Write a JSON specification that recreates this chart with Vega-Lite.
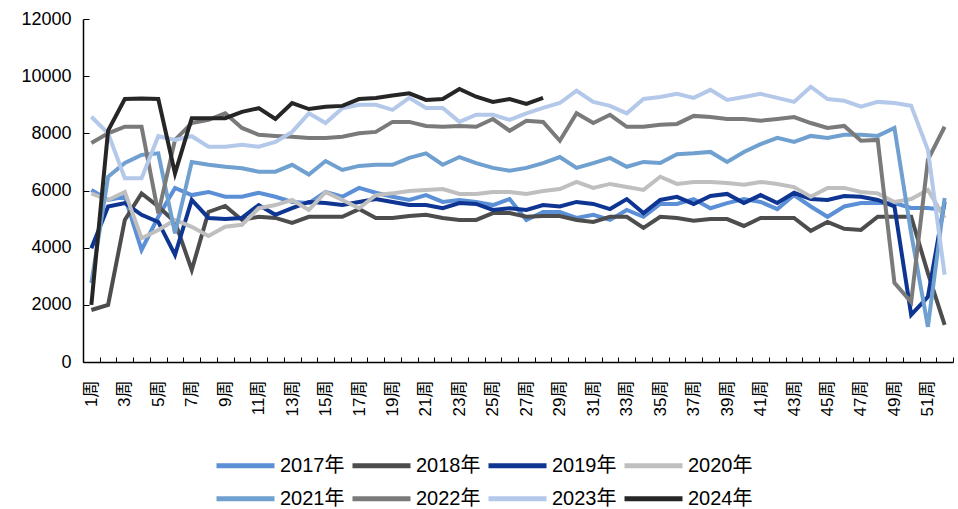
{
  "$schema": "https://vega.github.io/schema/vega-lite/v6.json",
  "width": 870,
  "height": 343,
  "autosize": {"type": "none"},
  "padding": {"left": 83, "top": 19, "right": 5, "bottom": 147},
  "background": "white",
  "config": {
    "view": {"stroke": null},
    "font": "Liberation Sans, Noto Sans CJK SC",
    "legend": {
      "title": null, "orient": "none", "direction": "horizontal", "columns": 4,
      "symbolType": "stroke", "symbolSize": 3364, "symbolStrokeWidth": 5,
      "labelFontSize": 20, "labelColor": "black", "labelOffset": 3, "columnPadding": -3
    }
  },
  "data": {"values": [
{"y":"2017年","w":1,"v":6020},{"y":"2017年","w":2,"v":5670},{"y":"2017年","w":3,"v":5780},{"y":"2017年","w":4,"v":3920},{"y":"2017年","w":5,"v":5080},{"y":"2017年","w":6,"v":6090},{"y":"2017年","w":7,"v":5840},{"y":"2017年","w":8,"v":5950},{"y":"2017年","w":9,"v":5780},{"y":"2017年","w":10,"v":5780},{"y":"2017年","w":11,"v":5920},{"y":"2017年","w":12,"v":5780},{"y":"2017年","w":13,"v":5600},{"y":"2017年","w":14,"v":5560},{"y":"2017年","w":15,"v":5950},{"y":"2017年","w":16,"v":5780},{"y":"2017年","w":17,"v":6090},{"y":"2017年","w":18,"v":5920},{"y":"2017年","w":19,"v":5780},{"y":"2017年","w":20,"v":5670},{"y":"2017年","w":21,"v":5840},{"y":"2017年","w":22,"v":5600},{"y":"2017年","w":23,"v":5670},{"y":"2017年","w":24,"v":5600},{"y":"2017年","w":25,"v":5490},{"y":"2017年","w":26,"v":5700},{"y":"2017年","w":27,"v":4970},{"y":"2017年","w":28,"v":5250},{"y":"2017年","w":29,"v":5250},{"y":"2017年","w":30,"v":5040},{"y":"2017年","w":31,"v":5150},{"y":"2017年","w":32,"v":4970},{"y":"2017年","w":33,"v":5320},{"y":"2017年","w":34,"v":5080},{"y":"2017年","w":35,"v":5530},{"y":"2017年","w":36,"v":5530},{"y":"2017年","w":37,"v":5700},{"y":"2017年","w":38,"v":5380},{"y":"2017年","w":39,"v":5560},{"y":"2017年","w":40,"v":5700},{"y":"2017年","w":41,"v":5600},{"y":"2017年","w":42,"v":5350},{"y":"2017年","w":43,"v":5840},{"y":"2017年","w":44,"v":5440},{"y":"2017年","w":45,"v":5080},{"y":"2017年","w":46,"v":5440},{"y":"2017年","w":47,"v":5560},{"y":"2017年","w":48,"v":5560},{"y":"2017年","w":49,"v":5560},{"y":"2017年","w":50,"v":5390},{"y":"2017年","w":51,"v":5390},{"y":"2017年","w":52,"v":5320},
{"y":"2018年","w":1,"v":1820},{"y":"2018年","w":2,"v":2000},{"y":"2018年","w":3,"v":4970},{"y":"2018年","w":4,"v":5900},{"y":"2018年","w":5,"v":5440},{"y":"2018年","w":6,"v":4900},{"y":"2018年","w":7,"v":3220},{"y":"2018年","w":8,"v":5250},{"y":"2018年","w":9,"v":5460},{"y":"2018年","w":10,"v":4970},{"y":"2018年","w":11,"v":5080},{"y":"2018年","w":12,"v":5040},{"y":"2018年","w":13,"v":4870},{"y":"2018年","w":14,"v":5080},{"y":"2018年","w":15,"v":5080},{"y":"2018年","w":16,"v":5080},{"y":"2018年","w":17,"v":5350},{"y":"2018年","w":18,"v":5040},{"y":"2018年","w":19,"v":5040},{"y":"2018年","w":20,"v":5110},{"y":"2018年","w":21,"v":5150},{"y":"2018年","w":22,"v":5040},{"y":"2018年","w":23,"v":4970},{"y":"2018年","w":24,"v":4970},{"y":"2018年","w":25,"v":5210},{"y":"2018年","w":26,"v":5210},{"y":"2018年","w":27,"v":5080},{"y":"2018年","w":28,"v":5110},{"y":"2018年","w":29,"v":5110},{"y":"2018年","w":30,"v":4970},{"y":"2018年","w":31,"v":4900},{"y":"2018年","w":32,"v":5080},{"y":"2018年","w":33,"v":5080},{"y":"2018年","w":34,"v":4690},{"y":"2018年","w":35,"v":5080},{"y":"2018年","w":36,"v":5040},{"y":"2018年","w":37,"v":4940},{"y":"2018年","w":38,"v":5000},{"y":"2018年","w":39,"v":5000},{"y":"2018年","w":40,"v":4760},{"y":"2018年","w":41,"v":5040},{"y":"2018年","w":42,"v":5040},{"y":"2018年","w":43,"v":5040},{"y":"2018年","w":44,"v":4590},{"y":"2018年","w":45,"v":4900},{"y":"2018年","w":46,"v":4660},{"y":"2018年","w":47,"v":4620},{"y":"2018年","w":48,"v":5080},{"y":"2018年","w":49,"v":5080},{"y":"2018年","w":50,"v":5080},{"y":"2018年","w":51,"v":3110},{"y":"2018年","w":52,"v":1300},
{"y":"2019年","w":1,"v":3980},{"y":"2019年","w":2,"v":5440},{"y":"2019年","w":3,"v":5560},{"y":"2019年","w":4,"v":5150},{"y":"2019年","w":5,"v":4900},{"y":"2019年","w":6,"v":3750},{"y":"2019年","w":7,"v":5670},{"y":"2019年","w":8,"v":5040},{"y":"2019年","w":9,"v":5000},{"y":"2019年","w":10,"v":5040},{"y":"2019年","w":11,"v":5490},{"y":"2019年","w":12,"v":5150},{"y":"2019年","w":13,"v":5380},{"y":"2019年","w":14,"v":5600},{"y":"2019年","w":15,"v":5560},{"y":"2019年","w":16,"v":5490},{"y":"2019年","w":17,"v":5600},{"y":"2019年","w":18,"v":5700},{"y":"2019年","w":19,"v":5600},{"y":"2019年","w":20,"v":5490},{"y":"2019年","w":21,"v":5490},{"y":"2019年","w":22,"v":5380},{"y":"2019年","w":23,"v":5560},{"y":"2019年","w":24,"v":5530},{"y":"2019年","w":25,"v":5320},{"y":"2019年","w":26,"v":5380},{"y":"2019年","w":27,"v":5320},{"y":"2019年","w":28,"v":5490},{"y":"2019年","w":29,"v":5440},{"y":"2019年","w":30,"v":5600},{"y":"2019年","w":31,"v":5530},{"y":"2019年","w":32,"v":5350},{"y":"2019年","w":33,"v":5700},{"y":"2019年","w":34,"v":5210},{"y":"2019年","w":35,"v":5670},{"y":"2019年","w":36,"v":5780},{"y":"2019年","w":37,"v":5530},{"y":"2019年","w":38,"v":5810},{"y":"2019年","w":39,"v":5880},{"y":"2019年","w":40,"v":5560},{"y":"2019年","w":41,"v":5840},{"y":"2019年","w":42,"v":5560},{"y":"2019年","w":43,"v":5920},{"y":"2019年","w":44,"v":5700},{"y":"2019年","w":45,"v":5670},{"y":"2019年","w":46,"v":5810},{"y":"2019年","w":47,"v":5780},{"y":"2019年","w":48,"v":5670},{"y":"2019年","w":49,"v":5440},{"y":"2019年","w":50,"v":1650},{"y":"2019年","w":51,"v":2280},{"y":"2019年","w":52,"v":5600},
{"y":"2020年","w":1,"v":5900},{"y":"2020年","w":2,"v":5670},{"y":"2020年","w":3,"v":5950},{"y":"2020年","w":4,"v":4330},{"y":"2020年","w":5,"v":4620},{"y":"2020年","w":6,"v":4970},{"y":"2020年","w":7,"v":4730},{"y":"2020年","w":8,"v":4410},{"y":"2020年","w":9,"v":4730},{"y":"2020年","w":10,"v":4800},{"y":"2020年","w":11,"v":5380},{"y":"2020年","w":12,"v":5490},{"y":"2020年","w":13,"v":5670},{"y":"2020年","w":14,"v":5320},{"y":"2020年","w":15,"v":5950},{"y":"2020年","w":16,"v":5670},{"y":"2020年","w":17,"v":5380},{"y":"2020年","w":18,"v":5840},{"y":"2020年","w":19,"v":5900},{"y":"2020年","w":20,"v":5980},{"y":"2020年","w":21,"v":6020},{"y":"2020年","w":22,"v":6050},{"y":"2020年","w":23,"v":5880},{"y":"2020年","w":24,"v":5880},{"y":"2020年","w":25,"v":5950},{"y":"2020年","w":26,"v":5950},{"y":"2020年","w":27,"v":5880},{"y":"2020年","w":28,"v":5980},{"y":"2020年","w":29,"v":6050},{"y":"2020年","w":30,"v":6300},{"y":"2020年","w":31,"v":6090},{"y":"2020年","w":32,"v":6230},{"y":"2020年","w":33,"v":6120},{"y":"2020年","w":34,"v":6020},{"y":"2020年","w":35,"v":6480},{"y":"2020年","w":36,"v":6230},{"y":"2020年","w":37,"v":6300},{"y":"2020年","w":38,"v":6300},{"y":"2020年","w":39,"v":6260},{"y":"2020年","w":40,"v":6200},{"y":"2020年","w":41,"v":6300},{"y":"2020年","w":42,"v":6230},{"y":"2020年","w":43,"v":6120},{"y":"2020年","w":44,"v":5780},{"y":"2020年","w":45,"v":6090},{"y":"2020年","w":46,"v":6090},{"y":"2020年","w":47,"v":5950},{"y":"2020年","w":48,"v":5900},{"y":"2020年","w":49,"v":5600},{"y":"2020年","w":50,"v":5700},{"y":"2020年","w":51,"v":6020},{"y":"2020年","w":52,"v":5040},
{"y":"2021年","w":1,"v":2760},{"y":"2021年","w":2,"v":6480},{"y":"2021年","w":3,"v":6960},{"y":"2021年","w":4,"v":7240},{"y":"2021年","w":5,"v":7300},{"y":"2021年","w":6,"v":4500},{"y":"2021年","w":7,"v":7000},{"y":"2021年","w":8,"v":6900},{"y":"2021年","w":9,"v":6830},{"y":"2021年","w":10,"v":6780},{"y":"2021年","w":11,"v":6660},{"y":"2021年","w":12,"v":6660},{"y":"2021年","w":13,"v":6900},{"y":"2021年","w":14,"v":6560},{"y":"2021年","w":15,"v":7030},{"y":"2021年","w":16,"v":6720},{"y":"2021年","w":17,"v":6860},{"y":"2021年","w":18,"v":6900},{"y":"2021年","w":19,"v":6900},{"y":"2021年","w":20,"v":7140},{"y":"2021年","w":21,"v":7300},{"y":"2021年","w":22,"v":6900},{"y":"2021年","w":23,"v":7170},{"y":"2021年","w":24,"v":6960},{"y":"2021年","w":25,"v":6790},{"y":"2021年","w":26,"v":6690},{"y":"2021年","w":27,"v":6790},{"y":"2021年","w":28,"v":6960},{"y":"2021年","w":29,"v":7170},{"y":"2021年","w":30,"v":6790},{"y":"2021年","w":31,"v":6960},{"y":"2021年","w":32,"v":7140},{"y":"2021年","w":33,"v":6830},{"y":"2021年","w":34,"v":7000},{"y":"2021年","w":35,"v":6960},{"y":"2021年","w":36,"v":7270},{"y":"2021年","w":37,"v":7300},{"y":"2021年","w":38,"v":7350},{"y":"2021年","w":39,"v":7000},{"y":"2021年","w":40,"v":7350},{"y":"2021年","w":41,"v":7620},{"y":"2021年","w":42,"v":7840},{"y":"2021年","w":43,"v":7700},{"y":"2021年","w":44,"v":7910},{"y":"2021年","w":45,"v":7840},{"y":"2021年","w":46,"v":7950},{"y":"2021年","w":47,"v":7950},{"y":"2021年","w":48,"v":7910},{"y":"2021年","w":49,"v":8190},{"y":"2021年","w":50,"v":4500},{"y":"2021年","w":51,"v":1230},{"y":"2021年","w":52,"v":5740},
{"y":"2022年","w":1,"v":7660},{"y":"2022年","w":2,"v":8000},{"y":"2022年","w":3,"v":8230},{"y":"2022年","w":4,"v":8230},{"y":"2022年","w":5,"v":5200},{"y":"2022年","w":6,"v":7770},{"y":"2022年","w":7,"v":8360},{"y":"2022年","w":8,"v":8470},{"y":"2022年","w":9,"v":8700},{"y":"2022年","w":10,"v":8190},{"y":"2022年","w":11,"v":7950},{"y":"2022年","w":12,"v":7910},{"y":"2022年","w":13,"v":7880},{"y":"2022年","w":14,"v":7840},{"y":"2022年","w":15,"v":7840},{"y":"2022年","w":16,"v":7880},{"y":"2022年","w":17,"v":8000},{"y":"2022年","w":18,"v":8050},{"y":"2022年","w":19,"v":8400},{"y":"2022年","w":20,"v":8400},{"y":"2022年","w":21,"v":8260},{"y":"2022年","w":22,"v":8230},{"y":"2022年","w":23,"v":8260},{"y":"2022年","w":24,"v":8230},{"y":"2022年","w":25,"v":8500},{"y":"2022年","w":26,"v":8090},{"y":"2022年","w":27,"v":8440},{"y":"2022年","w":28,"v":8400},{"y":"2022年","w":29,"v":7740},{"y":"2022年","w":30,"v":8700},{"y":"2022年","w":31,"v":8360},{"y":"2022年","w":32,"v":8650},{"y":"2022年","w":33,"v":8230},{"y":"2022年","w":34,"v":8230},{"y":"2022年","w":35,"v":8300},{"y":"2022年","w":36,"v":8330},{"y":"2022年","w":37,"v":8610},{"y":"2022年","w":38,"v":8570},{"y":"2022年","w":39,"v":8500},{"y":"2022年","w":40,"v":8500},{"y":"2022年","w":41,"v":8440},{"y":"2022年","w":42,"v":8500},{"y":"2022年","w":43,"v":8570},{"y":"2022年","w":44,"v":8360},{"y":"2022年","w":45,"v":8190},{"y":"2022年","w":46,"v":8260},{"y":"2022年","w":47,"v":7740},{"y":"2022年","w":48,"v":7770},{"y":"2022年","w":49,"v":2770},{"y":"2022年","w":50,"v":2100},{"y":"2022年","w":51,"v":7070},{"y":"2022年","w":52,"v":8230},
{"y":"2023年","w":1,"v":8580},{"y":"2023年","w":2,"v":8000},{"y":"2023年","w":3,"v":6430},{"y":"2023年","w":4,"v":6430},{"y":"2023年","w":5,"v":7900},{"y":"2023年","w":6,"v":7770},{"y":"2023年","w":7,"v":7900},{"y":"2023年","w":8,"v":7530},{"y":"2023年","w":9,"v":7530},{"y":"2023年","w":10,"v":7600},{"y":"2023年","w":11,"v":7530},{"y":"2023年","w":12,"v":7700},{"y":"2023年","w":13,"v":8050},{"y":"2023年","w":14,"v":8700},{"y":"2023年","w":15,"v":8360},{"y":"2023年","w":16,"v":8880},{"y":"2023年","w":17,"v":9000},{"y":"2023年","w":18,"v":9000},{"y":"2023年","w":19,"v":8820},{"y":"2023年","w":20,"v":9240},{"y":"2023年","w":21,"v":8890},{"y":"2023年","w":22,"v":8890},{"y":"2023年","w":23,"v":8400},{"y":"2023年","w":24,"v":8650},{"y":"2023年","w":25,"v":8650},{"y":"2023年","w":26,"v":8470},{"y":"2023年","w":27,"v":8700},{"y":"2023年","w":28,"v":8890},{"y":"2023年","w":29,"v":9060},{"y":"2023年","w":30,"v":9490},{"y":"2023年","w":31,"v":9100},{"y":"2023年","w":32,"v":8960},{"y":"2023年","w":33,"v":8700},{"y":"2023年","w":34,"v":9200},{"y":"2023年","w":35,"v":9270},{"y":"2023年","w":36,"v":9380},{"y":"2023年","w":37,"v":9240},{"y":"2023年","w":38,"v":9520},{"y":"2023年","w":39,"v":9170},{"y":"2023年","w":40,"v":9270},{"y":"2023年","w":41,"v":9380},{"y":"2023年","w":42,"v":9240},{"y":"2023年","w":43,"v":9100},{"y":"2023年","w":44,"v":9630},{"y":"2023年","w":45,"v":9200},{"y":"2023年","w":46,"v":9140},{"y":"2023年","w":47,"v":8930},{"y":"2023年","w":48,"v":9100},{"y":"2023年","w":49,"v":9060},{"y":"2023年","w":50,"v":8960},{"y":"2023年","w":51,"v":7420},{"y":"2023年","w":52,"v":3050},
{"y":"2024年","w":1,"v":2000},{"y":"2024年","w":2,"v":8100},{"y":"2024年","w":3,"v":9200},{"y":"2024年","w":4,"v":9220},{"y":"2024年","w":5,"v":9200},{"y":"2024年","w":6,"v":6600},{"y":"2024年","w":7,"v":8530},{"y":"2024年","w":8,"v":8530},{"y":"2024年","w":9,"v":8530},{"y":"2024年","w":10,"v":8750},{"y":"2024年","w":11,"v":8880},{"y":"2024年","w":12,"v":8500},{"y":"2024年","w":13,"v":9060},{"y":"2024年","w":14,"v":8850},{"y":"2024年","w":15,"v":8930},{"y":"2024年","w":16,"v":8960},{"y":"2024年","w":17,"v":9200},{"y":"2024年","w":18,"v":9240},{"y":"2024年","w":19,"v":9320},{"y":"2024年","w":20,"v":9400},{"y":"2024年","w":21,"v":9170},{"y":"2024年","w":22,"v":9200},{"y":"2024年","w":23,"v":9550},{"y":"2024年","w":24,"v":9280},{"y":"2024年","w":25,"v":9100},{"y":"2024年","w":26,"v":9200},{"y":"2024年","w":27,"v":9030},{"y":"2024年","w":28,"v":9240}
  ]},
  "encoding": {
    "x": {
      "field": "w", "type": "ordinal",
      "scale": {"type": "band", "paddingInner": 0, "paddingOuter": 0},
      "axis": {
        "title": null,
        "labelExpr": "datum.value % 2 == 1 ? datum.value + '周' : ''",
        "labelAngle": -90, "labelAlign": "right", "labelBaseline": "middle",
        "labelFontSize": 17, "labelColor": "black", "labelPadding": 23,
        "labelOverlap": false, "labelBound": false,
        "tickBand": "extent", "tickSize": -5, "tickColor": "black", "tickWidth": 1,
        "domainColor": "black", "domainWidth": 1.5, "grid": false
      }
    },
    "y": {
      "field": "v", "type": "quantitative",
      "scale": {"domain": [0, 12000], "nice": false},
      "axis": {
        "title": null, "values": [0,2000,4000,6000,8000,10000,12000], "format": "d",
        "labelFontSize": 18, "labelColor": "black", "labelPadding": 18,
        "tickSize": -6, "tickColor": "black", "domainColor": "black", "domainWidth": 1.5, "grid": false
      }
    }
  },
  "layer": [
    {
      "transform": [{"filter": {"field": "y", "oneOf": ["2017年","2018年","2019年","2020年"]}}],
      "mark": {"type": "line", "strokeWidth": 4},
      "encoding": {
        "color": {
          "field": "y", "type": "nominal",
          "scale": {"domain": ["2017年","2018年","2019年","2020年"], "range": ["#5B8FD6","#4D4D4D","#0E3592","#BFBFBF"]},
          "legend": {"legendX": 131, "legendY": 415}
        }
      }
    },
    {
      "transform": [{"filter": {"field": "y", "oneOf": ["2021年","2022年","2023年","2024年"]}}],
      "mark": {"type": "line", "strokeWidth": 4},
      "encoding": {
        "stroke": {
          "field": "y", "type": "nominal",
          "scale": {"domain": ["2021年","2022年","2023年","2024年"], "range": ["#70A0CF","#7A7A7A","#B4C8EA","#262626"]},
          "legend": {"legendX": 131, "legendY": 448}
        }
      }
    }
  ]
}
